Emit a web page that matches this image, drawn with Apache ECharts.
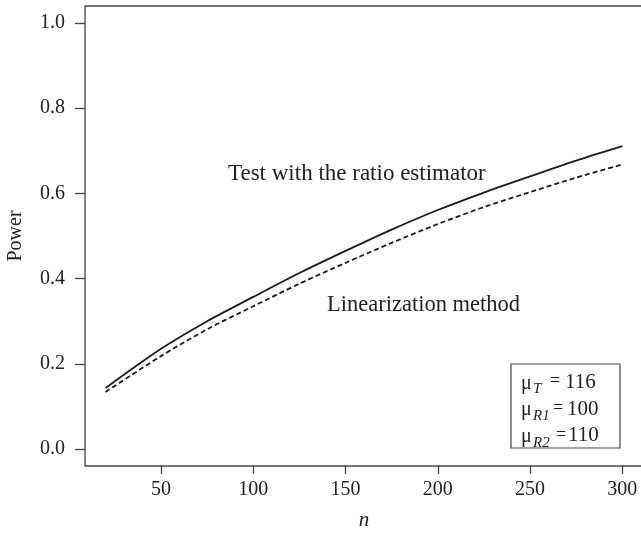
<!DOCTYPE html>
<html>
<head>
<meta charset="utf-8">
<script src="https://cdn.jsdelivr.net/npm/echarts@6/dist/echarts.min.js"></script>
<style>
  html, body { margin: 0; padding: 0; background: #fff; }
  #chart { width: 641px; height: 535px; }
</style>
</head>
<body>
<div id="chart"></div>
<script>
// Sample sizes and power of the two tests
const sampleSizes = [20, 50, 75, 100, 125, 150, 175, 200, 225, 250, 275, 300];
const powerRatio = [0.143, 0.235, 0.300, 0.357, 0.413, 0.465, 0.515, 0.561, 0.602, 0.640, 0.677, 0.711];
const powerLinear = [0.134, 0.218, 0.281, 0.335, 0.388, 0.437, 0.484, 0.528, 0.568, 0.603, 0.637, 0.668];

// Axis ticks
const xTicks = [50, 100, 150, 200, 250, 300];
const yTicks = [0, 0.2, 0.4, 0.6, 0.8, 1.0];

// Parameter box lines: [subscript, value]
const paramSubs = ['T', 'R1', 'R2'];
const paramVals = ['116', '100', '110'];

const FONT = '"Liberation Serif", "DejaVu Serif", serif';
const INK = '#222';

const chart = echarts.init(document.getElementById('chart'), null, { renderer: 'canvas' });

const paramGraphics = [];
const boxX = 511, boxY = 364, boxW = 109, boxH = 84;
paramGraphics.push({
  type: 'rect',
  shape: { x: boxX, y: boxY, width: boxW, height: boxH },
  style: { fill: '#fff', stroke: '#444', lineWidth: 1.2 },
  z: 10
});
const eqX = [550, 553, 556];
const valX = [565, 567, 568];
paramSubs.forEach((sub, i) => {
  const mid = 381.5 + i * 26.7;
  paramGraphics.push({
    type: 'text', z: 11,
    style: { text: 'μ', x: 521, y: mid + 2, font: '20px ' + FONT, fill: INK, verticalAlign: 'middle' }
  });
  paramGraphics.push({
    type: 'text', z: 11,
    style: { text: sub, x: 533, y: mid + 8, font: 'italic 15px ' + FONT, fill: INK, verticalAlign: 'middle' }
  });
  paramGraphics.push({
    type: 'text', z: 11,
    style: { text: '=', x: eqX[i], y: mid, font: '18px ' + FONT, fill: INK, verticalAlign: 'middle' }
  });
  paramGraphics.push({
    type: 'text', z: 11,
    style: { text: paramVals[i], x: valX[i], y: mid + 1, font: '21px ' + FONT, fill: INK, verticalAlign: 'middle' }
  });
});

const option = {
  backgroundColor: '#fff',
  animation: false,
  grid: {
    left: 85, top: 6, right: -2, bottom: 69,
    outerBoundsMode: 'none',
    containLabel: false,
    show: true, borderColor: '#444', borderWidth: 1.3, backgroundColor: 'transparent'
  },
  xAxis: {
    type: 'value',
    min: 8.8, max: 311.2,
    name: 'n',
    nameLocation: 'middle',
    nameGap: 44,
    nameTextStyle: { fontFamily: FONT, fontStyle: 'italic', fontSize: 21, color: INK },
    axisLine: { show: false, onZero: false },
    splitLine: { show: false },
    axisTick: { show: true, inside: false, length: 8, customValues: xTicks, lineStyle: { color: '#444', width: 1.3 } },
    axisLabel: { customValues: xTicks, fontFamily: FONT, fontSize: 20, color: INK, margin: 14 }
  },
  yAxis: {
    type: 'value',
    min: -0.04, max: 1.04,
    name: 'Power',
    nameLocation: 'middle',
    nameGap: 59,
    nameTextStyle: { fontFamily: FONT, fontSize: 20, color: INK },
    axisLine: { show: false, onZero: false },
    splitLine: { show: false },
    axisTick: { show: true, inside: false, length: 10, customValues: yTicks, lineStyle: { color: '#444', width: 1.3 } },
    axisLabel: {
      customValues: yTicks, fontFamily: FONT, fontSize: 20, color: INK, margin: 20,
      formatter: v => v.toFixed(1)
    }
  },
  series: [
    {
      name: 'Test with the ratio estimator',
      type: 'line',
      data: sampleSizes.map((n, i) => [n, powerRatio[i]]),
      smooth: 0.3,
      showSymbol: false,
      lineStyle: { color: '#1a1a1a', width: 1.8, type: 'solid' }
    },
    {
      name: 'Linearization method',
      type: 'line',
      data: sampleSizes.map((n, i) => [n, powerLinear[i]]),
      smooth: 0.3,
      showSymbol: false,
      lineStyle: { color: '#1a1a1a', width: 1.8, type: [5, 3] }
    }
  ],
  graphic: [
    {
      type: 'text',
      style: { text: 'Test with the ratio estimator', x: 228, y: 174, font: '23px ' + FONT, fill: INK, verticalAlign: 'middle' }
    },
    {
      type: 'text',
      style: { text: 'Linearization method', x: 327, y: 305, font: '22.5px ' + FONT, fill: INK, verticalAlign: 'middle' }
    }
  ].concat(paramGraphics)
};

chart.setOption(option);
</script>
</body>
</html>
